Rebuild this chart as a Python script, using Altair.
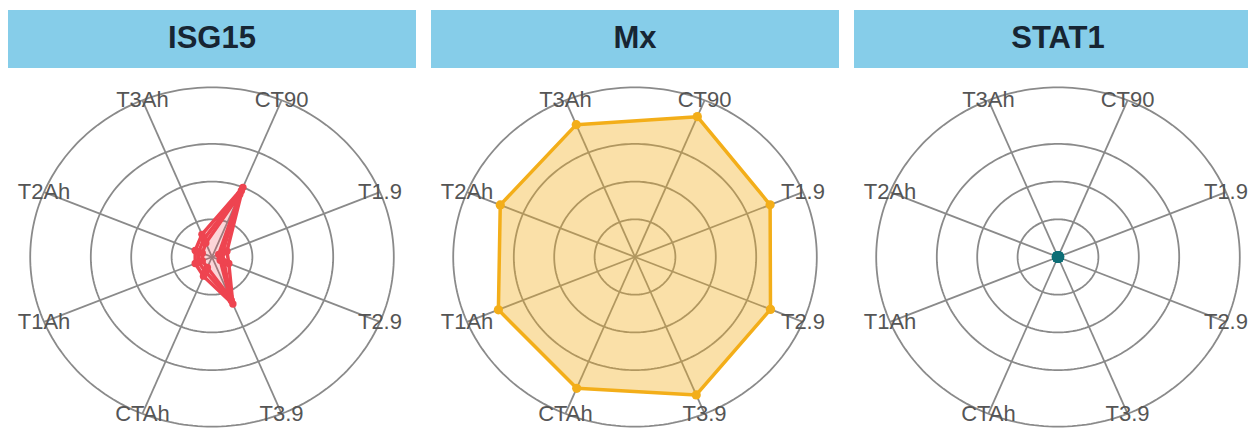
import altair as alt
import numpy as np
import pandas as pd

# Radar axes, clockwise from the top
spokes = ["CT90", "T1.9", "T2.9", "T3.9", "CTAh", "T1Ah", "T2Ah", "T3Ah"]

# Relative expression per condition (grid rings sit at 1, 2, 3; outer ring at 4.5)
isg15_rep1 = [2.00, 0.40, 0.45, 1.35, 0.55, 0.45, 0.45, 0.65]
isg15_rep2 = [1.90, 0.28, 0.32, 1.25, 0.42, 0.36, 0.36, 0.52]
isg15_rep3 = [1.80, 0.18, 0.22, 1.15, 0.30, 0.26, 0.26, 0.40]
mx_values = [4.03, 3.62, 3.63, 3.96, 3.77, 3.66, 3.61, 3.80]
stat1_values = [0, 0, 0, 0, 0, 0, 0, 0]

genes = ["ISG15", "Mx", "STAT1"]
gene_series = {
    "ISG15": {"rep1": isg15_rep1, "rep2": isg15_rep2, "rep3": isg15_rep3},
    "Mx": {"rep1": mx_values},
    "STAT1": {"rep1": stat1_values},
}
gene_colors = {"ISG15": "#EE4450", "Mx": "#F3AE19", "STAT1": "#0E6E76"}
gene_fill_opacity = {"ISG15": 0.08, "Mx": 0.38, "STAT1": 0.3}
gene_dot_size = {"ISG15": 55, "Mx": 85, "STAT1": 150}

grid_rings = [1, 2, 3, 4.5]
outer = 4.5

# pixels per data unit along each direction
PX_X = 40.4
PX_Y = 37.7
PANEL_H = 422
CENTER_FROM_TOP = 247
HEADER_H = 58

angles = np.deg2rad(22.5 + 45 * np.arange(len(spokes)))


def polar(r, a):
    return r * np.sin(a), r * np.cos(a)


# grid rings
ring_rows = []
t = np.linspace(0, 2 * np.pi, 241)
for ring in grid_rings:
    xs, ys = polar(ring, t)
    for i, (x, y) in enumerate(zip(xs, ys)):
        ring_rows.append({"ring": ring, "i": i, "x": x, "y": y})
rings_df = pd.DataFrame(ring_rows)

# spokes and their labels
spoke_rows = []
label_rows = []
for name, a in zip(spokes, angles):
    x1, y1 = polar(outer, a)
    spoke_rows.append({"spoke": name, "x": 0.0, "y": 0.0, "x2": x1, "y2": y1})
    label_rows.append({"spoke": name, "x": x1, "y": y1})
spokes_df = pd.DataFrame(spoke_rows)
labels_df = pd.DataFrame(label_rows)


def panel(gene, width, x_left, x_right):
    y_top = CENTER_FROM_TOP / PX_Y
    y_bottom = -(PANEL_H - CENTER_FROM_TOP) / PX_Y
    header_bottom = (CENTER_FROM_TOP - HEADER_H) / PX_Y
    header_mid = (CENTER_FROM_TOP - HEADER_H / 2) / PX_Y

    xs = alt.Scale(domain=[x_left, x_right], nice=False, zero=False)
    ys = alt.Scale(domain=[y_bottom, y_top], nice=False, zero=False)

    def X(f="x"):
        return alt.X(f"{f}:Q", scale=xs, axis=None)

    def Y(f="y"):
        return alt.Y(f"{f}:Q", scale=ys, axis=None)

    color = gene_colors[gene]

    rows = []
    for rep, vals in gene_series[gene].items():
        closed_names = spokes + [spokes[0]]
        closed_vals = list(vals) + [vals[0]]
        closed_angles = list(angles) + [angles[0]]
        for k, (name, v, a) in enumerate(zip(closed_names, closed_vals, closed_angles)):
            x, y = polar(v, a)
            rows.append({"rep": rep, "k": k, "spoke": name, "value": v,
                         "x": float(x), "y": float(y)})
    poly_df = pd.DataFrame(rows)
    pts_df = poly_df[poly_df["k"] < len(spokes)]

    header = alt.Chart(pd.DataFrame({"x": [x_left], "x2": [x_right],
                                     "y": [header_bottom], "y2": [y_top]})).mark_rect(
        color="#86CDE9").encode(x=X(), x2="x2:Q", y=Y(), y2="y2:Q")

    title_x = (x_left + x_right) / 2 if gene != "STAT1" else 0.0
    header_text = alt.Chart(pd.DataFrame({"gene": [gene], "x": [title_x],
                                          "y": [header_mid]})).mark_text(
        font="Liberation Sans", fontSize=31, fontWeight="bold", color="#172533",
        baseline="middle", align="center").encode(x=X(), y=Y(), text="gene:N")

    rings = alt.Chart(rings_df).mark_line(color="#8A8A8A", strokeWidth=1.8).encode(
        x=X(), y=Y(), detail="ring:N", order="i:Q")

    spoke_lines = alt.Chart(spokes_df).mark_rule(color="#8A8A8A", strokeWidth=1.8).encode(
        x=X(), y=Y(), x2="x2:Q", y2="y2:Q")

    shape = alt.Chart(poly_df).mark_line(
        color=color, fill=color, fillOpacity=gene_fill_opacity[gene],
        strokeWidth=3.5, strokeJoin="round").encode(
        x=X(), y=Y(), detail="rep:N", order="k:Q")

    dots = alt.Chart(pts_df).mark_circle(
        color=color, opacity=1, size=gene_dot_size[gene]).encode(x=X(), y=Y())

    labels = alt.Chart(labels_df).mark_text(
        font="Liberation Sans", fontSize=22, color="#555555",
        align="center", baseline="middle").encode(x=X(), y=Y(), text="spoke:N")

    return alt.layer(header, rings, spoke_lines, shape, dots, labels, header_text).properties(
        width=width, height=PANEL_H)


half = 204 / PX_X
p1 = panel("ISG15", 408, -half, half)
p2 = panel("Mx", 408, -half, half)
p3 = panel("STAT1", 394, -half, (394 - 204) / PX_X)

chart = alt.hconcat(p1, p2, p3, spacing=15).properties(
    padding={"left": 8, "top": 10, "right": 0, "bottom": 0},
    background="white",
).configure_view(stroke=None)

chart.save("out.html", embed_options={"renderer": "svg", "actions": False})
